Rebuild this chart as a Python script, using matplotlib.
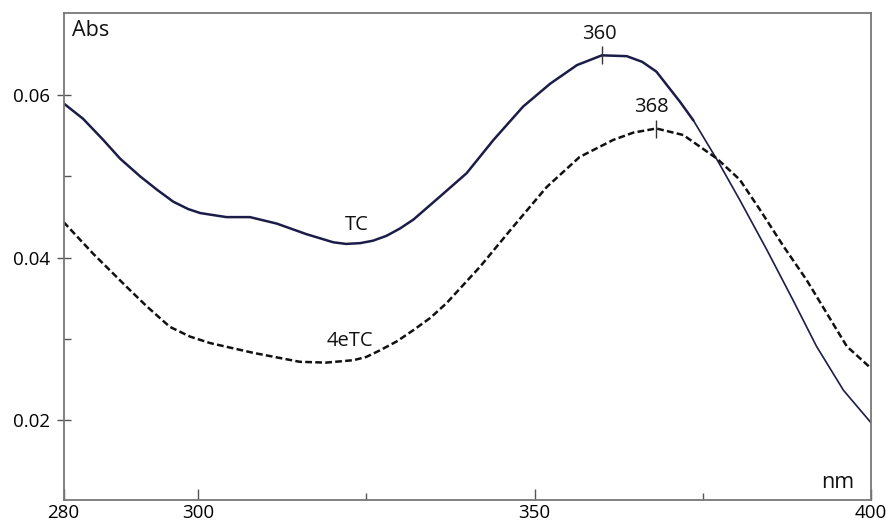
import matplotlib
matplotlib.use("Agg")
import matplotlib.pyplot as plt
from matplotlib.ticker import FixedLocator

# ---- data ----
tc_x = [280.0, 282.9, 285.9, 288.4, 291.4, 294.0, 296.3, 298.5, 300.3, 304.2, 307.7, 311.7,
        316.1, 320.1, 322.0, 324.1, 326.0, 328.0, 330.0, 332.0, 335.9, 339.9, 343.9, 348.3, 352.3,
        356.3, 360.0, 363.7, 366.0, 368.1, 371.6, 373.6, 377.3, 380.5, 384.5, 388.4,
        391.9, 395.9, 400.0]
tc_y = [0.0590, 0.0571, 0.0545, 0.0522, 0.0500, 0.0483, 0.0469, 0.0460, 0.0455, 0.0450, 0.0450, 0.0442,
        0.0429, 0.0419, 0.0417, 0.0418, 0.0421, 0.0427, 0.0436, 0.0447, 0.0475, 0.0504, 0.0545, 0.0586, 0.0614,
        0.0637, 0.0649, 0.0648, 0.0641, 0.0629, 0.0592, 0.0569, 0.0518, 0.0471, 0.0410, 0.0348,
        0.0291, 0.0237, 0.0197]

etc_x = [280.0, 284.4, 289.4, 292.4, 295.8, 298.8, 301.8, 308.2, 315.1, 319.0, 323.1, 325.0,
         327.0, 329.5, 332.0, 334.5, 336.9, 341.9, 346.8, 351.8, 356.7, 361.7, 364.7, 368.1, 372.1,
         377.1, 380.5, 383.5, 387.0, 390.4, 393.4, 396.4, 400.0]
etc_y = [0.0444, 0.0405, 0.0364, 0.0340, 0.0315, 0.0303, 0.0295, 0.0283, 0.0272, 0.0271, 0.0274, 0.0278,
         0.0286, 0.0297, 0.0311, 0.0326, 0.0344, 0.0389, 0.0438, 0.0487, 0.0524, 0.0545, 0.0554, 0.0559, 0.0551,
         0.0522, 0.0496, 0.0459, 0.0414, 0.0373, 0.0332, 0.0291, 0.0264]

peak_x = [360, 368]
peak_y = [0.0649, 0.0559]
peak_labels = ["360", "368"]

series_names = ["TC", "4eTC"]
xtick_vals = [280, 300, 350, 400]
xtick_minor = [325, 375]
ytick_vals = [0.02, 0.04, 0.06]
ytick_minor = [0.03, 0.05]
ytick_labels = ["0.02", "0.04", "0.06"]

plt.rcParams['font.family'] = ['Open Sans', 'DejaVu Sans']

fig = plt.figure(figsize=(8.86, 5.23), dpi=100)
ax = fig.add_axes([0.0717, 0.044, 0.9114, 0.931])

navy = "#1c1c48"
split = 31  # index where the solid curve becomes thinner (descending side)
ax.plot(tc_x[:split + 1], tc_y[:split + 1], color=navy, lw=1.8,
        solid_joinstyle='round', solid_capstyle='round')
ax.plot(tc_x[split:], tc_y[split:], color=navy, lw=1.2)
ax.plot(etc_x, etc_y, color="#111111", lw=1.8, dashes=(2.7, 1.3))

# peak markers
ax.plot(peak_x, peak_y, linestyle='none', marker='|', markersize=13,
        markeredgewidth=1.0, color="#333333")
offsets = [(-2, 21), (-4, 22)]
for px, py, lab, off in zip(peak_x, peak_y, peak_labels, offsets):
    ax.annotate(lab, (px, py), xytext=off, textcoords='offset pixels',
                ha='center', va='center', fontsize=14.5, color="#111111")

ax.text(323.6, 0.0440, series_names[0], ha='center', va='center', fontsize=14.5, color="#111111")
ax.text(322.6, 0.0297, series_names[1], ha='center', va='center', fontsize=14.5, color="#111111")

ax.text(0.011, 0.965, "Abs", transform=ax.transAxes, ha='left', va='center',
        fontsize=15.5, color="#111111")
ax.text(0.959, 0.036, "nm", transform=ax.transAxes, ha='center', va='center',
        fontsize=15.5, color="#111111")

ax.set_xlim(280, 400)
ax.set_ylim(0.0102, 0.0701)

ax.set_xticks(xtick_vals)
ax.set_xticklabels([str(v) for v in xtick_vals])
ax.xaxis.set_minor_locator(FixedLocator(xtick_minor))
ax.set_yticks(ytick_vals)
ax.set_yticklabels(ytick_labels)
ax.yaxis.set_minor_locator(FixedLocator(ytick_minor))

ax.tick_params(axis='x', which='major', direction='in', length=8, width=1.0,
               color="#555555", labelsize=13.5, pad=3)
ax.tick_params(axis='x', which='minor', direction='in', length=5, width=1.0, color="#555555")
ax.tick_params(axis='y', which='major', direction='inout', length=10, width=1.0,
               color="#555555", labelsize=13.5, pad=5)
ax.tick_params(axis='y', which='minor', direction='in', length=5, width=1.0, color="#555555")

for s in ax.spines.values():
    s.set_color("#777777")
    s.set_linewidth(1.3)

fig.savefig("out.png", dpi=100)
